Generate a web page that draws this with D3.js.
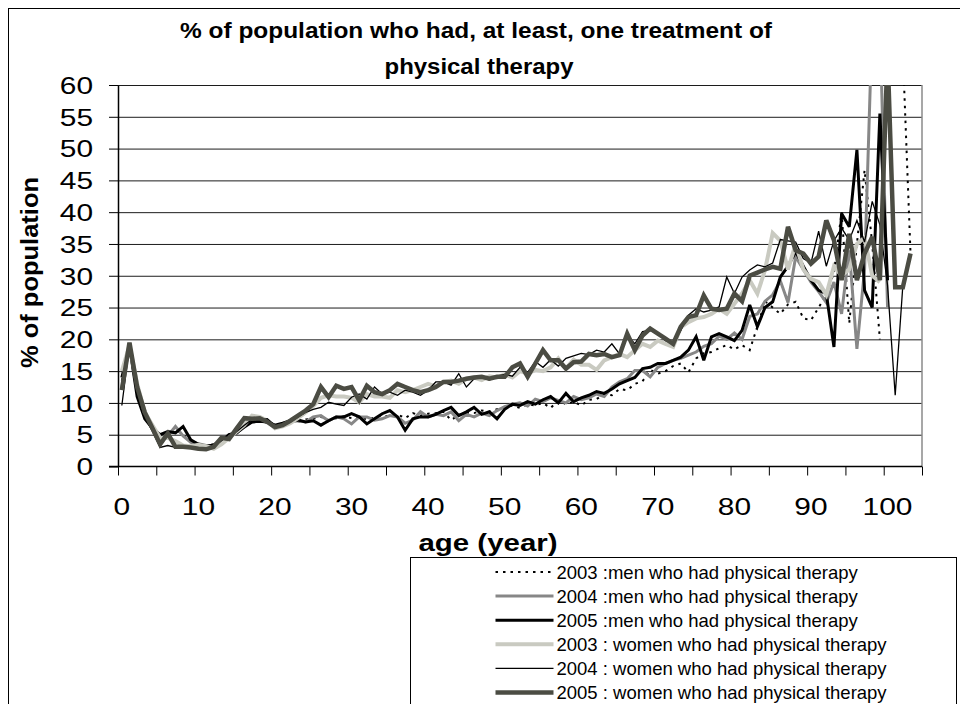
<!DOCTYPE html>
<html>
<head>
<meta charset="utf-8">
<script src="https://cdn.jsdelivr.net/npm/d3@7"></script>
<style>
  html, body { margin: 0; padding: 0; background: #fff; }
  svg { display: block; font-family: "Liberation Sans", Arial, sans-serif; }
</style>
</head>
<body>
<div id="chart"></div>
<script>
// ages 0..103 (the category axis runs one slot further, to 104)
const ages = d3.range(0, 104);

// % of population. null = no point for that age.
const men2003 = [
  13.5, 19, 11.5, 8, 6, 4.8, 4.2, 5.8, 5, 4, 3.5, 3.2, 3.5, 4.2, 5, 5.5, 6.5, 7.2, 7.1, 7.2, 6.3,
  6.8, 7.2, 7.0, 7.4, 7.5, 7.8, 7.3, 7.6, 7.9, 7.6, 7.8, 7.4, 7.7, 8.0, 7.9, 8.2, 7.6, 8.4, 8.0, 8.3,
  8.4, 8.6, 7.3, 8.1, 8.5, 8.4, 8.8, 8.6, 9.0, 9.3, 9.6, 9.2, 9.8, 9.6, 10.0, 9.2, 10.4, 9.8, 10.2, 9.6,
  10.5, 10.6, 11.4, 11.2, 12.2, 12.0, 13.0, 13.4, 15.2, 14.6, 15.0, 15.8, 16.2, 14.8, 17.0, 17.8, 18.0, 18.6, 19.1, 18.4,
  19.1, 18.3, 22.0, 26.0, 25.0, 24.0, 25.5, 25.9, 23.3, 23.0, 25.0, 27.0, 30.5, 40.0, 22.5, 35.0, 46.6, 35.0, 20.0, null,
  null, 65, 33.5
];
const men2004 = [
  12.5, 19.3, 12, 8, 6, 4.5, 4.8, 6.3, 4.8, 3.8, 3.6, 3.3, 3.3, 4, 5, 5.2, 6.4, 7, 7.2, 7, 6.3,
  6.5, 7.0, 7.2, 7.0, 7.8, 8.0, 7.2, 7.8, 7.5, 6.7, 7.8, 7.8, 7.3, 7.5, 8.0, 7.8, 6.8, 7.3, 8.6, 7.8,
  8.2, 8.0, 8.6, 7.2, 8.2, 7.8, 8.4, 8.0, 8.8, 9.4, 9.8, 10.0, 9.5, 10.6, 10.2, 10.8, 10.4, 10.0, 11.0, 10.5,
  10.8, 11.4, 11.0, 12.5, 13.3, 13.8, 15.1, 15.1, 14.1, 15.6, 16.2, 16.7, 17.0, 17.5, 18.0, 18.9, 19.3, 20.5, 20.0, 21.0,
  20.0, 23.6, 24.0, 26.0, 27.0, 29.2, 25.8, 33.0, 31.0, 29.0, 27.5, 25.8, 29.0, 24.0, 34.0, 18.5, 31.0, 70, 70, 25.0,
  null, null, null
];
const men2005 = [
  14, 19, 11, 7.5, 6, 5, 5.5, 5.3, 6.3, 4.2, 3.5, 3.2, 3.4, 4, 5, 5.3, 6.2, 7, 7.1, 7, 6.5,
  6.8, 7.2, 7.3, 7.0, 7.2, 6.5, 7.2, 7.8, 7.8, 8.3, 7.8, 6.7, 7.5, 8.3, 8.8, 7.8, 5.7, 7.5, 7.8, 7.8,
  8.2, 8.8, 9.3, 8.0, 8.6, 9.3, 8.2, 8.6, 7.5, 9.0, 9.8, 9.6, 10.2, 9.8, 10.5, 11.0, 10.0, 11.5, 10.2, 10.8,
  11.2, 11.8, 11.5, 12.2, 13.0, 13.5, 14.0, 15.4, 15.6, 16.2, 16.2, 16.7, 17.2, 18.3, 20.4, 16.7, 20.4, 20.9, 20.4, 19.8,
  21.4, 25.4, 22.0, 25.0, 25.9, 29.8, 31.5, 33.8, 31.5, 29.3, 27.7, 27.2, 18.8, 39.8, 37.7, 49.8, 27.7, 25.0, 55.5, 29.3,
  null, null, null
];
const women2003 = [
  15, 19, 13, 8.5, 6.5, 4.5, 4.5, 4, 3.3, 3.2, 3.4, 3.2, 2.8, 3.5, 4.5, 5.5, 6.5, 8, 7.8, 7.2, 6,
  6.3, 6.8, 7.6, 8.5, 9.5, 10.8, 11.2, 11.0, 11.0, 10.8, 10.1, 11.4, 11.0, 11.0, 10.8, 12.0, 11.7, 12.0, 12.5, 13.0,
  12.6, 13.3, 13.5, 13.0, 13.8, 14.0, 13.6, 14.2, 14.0, 14.5, 14.0, 15.0, 14.6, 15.2, 15.0, 15.6, 17.0, 15.4, 16.8, 16.0,
  16.0, 15.2, 16.7, 17.2, 17.7, 17.2, 18.3, 19.3, 18.8, 19.8, 19.3, 18.8, 21.9, 22.7, 23.3, 23.5, 24.0, 24.8, 24.0, 25.6,
  27.2, 29.3, 27.2, 30.9, 36.7, 35.5, 31.0, 35.0, 31.0, 29.5, 29.0, 27.0, 31.5, 30.0, 31.0, 35.0, 36.0, 30.0, 29.0, null,
  null, null, null
];
const women2004 = [
  9.6, 19, 12, 7.8, 5.5, 3, 3.3, 3.0, 3.0, 3.1, 2.9, 2.8, 3.3, 4.2, 4.7, 5.5, 6.5, 7.4, 7.3, 7.5, 6.5,
  6.4, 7.0, 7.8, 8.5, 9.0, 9.3, 10.1, 9.8, 9.6, 10.9, 11.4, 10.6, 12.5, 11.4, 11.7, 11.2, 12.0, 11.7, 11.2, 12.0,
  13.3, 13.3, 12.8, 14.6, 12.5, 13.8, 14.0, 13.6, 14.2, 14.5, 14.2, 15.6, 14.8, 16.5, 15.6, 16.8, 15.8, 17.0, 17.4, 17.8,
  17.6, 18.3, 18.0, 19.3, 17.7, 20.6, 19.3, 21.2, 21.4, 20.9, 19.8, 19.3, 21.4, 23.8, 24.8, 24.3, 24.6, 25.1, 29.8, 27.2,
  29.8, 30.9, 31.7, 31.4, 32.0, 35.7, 35.5, 35.3, 32.7, 32.0, 37.0, 31.5, 35.5, 37.5, 35.6, 38.7, 35.3, 41.7, 38.0, 28.5,
  11.2, 28.5, null
];
const women2005 = [
  12, 19.5, 12.5, 8.5, 6, 3.5, 5.2, 3.1, 3.1, 3.0, 2.8, 2.7, 3.1, 4.5, 4.3, 6, 7.6, 7.5, 7.6, 7, 6.2,
  6.5, 7.2, 8.0, 8.8, 9.8, 12.5, 10.9, 12.7, 12.2, 12.5, 10.4, 12.7, 11.7, 11.4, 12.0, 13.0, 12.5, 12.0, 11.7, 12.0,
  12.5, 13.3, 13.3, 13.5, 13.8, 14.0, 14.1, 13.8, 14.1, 14.1, 15.6, 16.2, 14.1, 16.2, 18.3, 16.7, 16.7, 15.4, 16.4, 16.5,
  17.7, 17.5, 17.7, 17.2, 17.5, 20.9, 18.3, 20.6, 21.7, 20.9, 20.1, 19.3, 22.0, 23.5, 23.8, 26.9, 24.8, 24.6, 24.8, 27.2,
  26.0, 30.0, 30.5, 31.0, 31.4, 31.1, 37.7, 34.0, 33.5, 31.9, 33.0, 38.7, 35.6, 29.3, 36.6, 29.3, 33.5, 36.1, 29.3, 65,
  28.2, 28.2, 33.5
];

const yTicks = d3.range(0, 61, 5);
const xLabelTicks = d3.range(0, 101, 10);
const xMarkTicks = d3.range(0, 106, 5);

const seriesNames = [
  "2003 :men who had physical therapy",
  "2004 :men who had physical therapy",
  "2005 :men who had physical therapy",
  "2003 : women who had physical therapy",
  "2004 : women who had physical therapy",
  "2005 : women who had physical therapy"
];
const seriesValues = [men2003, men2004, men2005, women2003, women2004, women2005];

// stroke styles, in the same order as the series
const seriesStyles = [
  { color: "#000000", width: 2, dash: "2.5,5" },
  { color: "#878787", width: 3, dash: null },
  { color: "#000000", width: 3, dash: null },
  { color: "#c9cac1", width: 4, dash: null },
  { color: "#000000", width: 1.3, dash: null },
  { color: "#4b4c43", width: 4.5, dash: null }
];

const config = {
  width: 960,
  height: 704,
  plot: { left: 118, right: 922, top: 85, bottom: 466.5 },
  tickStretch: 1.3
};

const svg = d3.select("#chart")
  .append("svg")
  .attr("width", config.width)
  .attr("height", config.height);

// outer chart border (right and bottom edges fall outside the picture)
svg.append("rect")
  .attr("x", 8.5).attr("y", 8.5)
  .attr("width", 1000).attr("height", 800)
  .attr("fill", "#fff").attr("stroke", "#000").attr("stroke-width", 1);

const p = config.plot;
// category slots 0..104, drawn between tick marks like an Excel category axis
const x = d3.scaleBand().domain(d3.range(0, 105)).range([p.left, p.right]).padding(0);
const xEdge = d3.scaleLinear().domain([0, 105]).range([p.left, p.right]);
const y = d3.scaleLinear().domain([0, 60]).range([p.bottom, p.top]);

// horizontal gridlines
svg.append("g")
  .attr("class", "grid")
  .attr("transform", "translate(" + p.left + ",0)")
  .call(d3.axisLeft(y).tickValues(yTicks.slice(1)).tickSize(-(p.right - p.left)).tickFormat(""))
  .call(g => g.select(".domain").remove())
  .selectAll("line").attr("stroke", "#1c1c1c");

// right edge of plot area
svg.append("line")
  .attr("x1", p.right).attr("x2", p.right)
  .attr("y1", y(60)).attr("y2", y(0))
  .attr("stroke", "#8a8a8a").attr("stroke-width", 1.5);

// series lines, clipped to the plot area
svg.append("clipPath").attr("id", "plot-clip")
  .append("rect")
  .attr("x", p.left).attr("y", p.top)
  .attr("width", p.right - p.left).attr("height", p.bottom - p.top);

const line = d3.line()
  .defined(d => d != null)
  .x((d, i) => x(ages[i]) + x.bandwidth() / 2)
  .y(d => y(d));

svg.append("g")
  .attr("clip-path", "url(#plot-clip)")
  .selectAll("path")
  .data(seriesValues)
  .enter()
  .append("path")
  .attr("d", d => line(d))
  .attr("fill", "none")
  .attr("stroke", (d, i) => seriesStyles[i].color)
  .attr("stroke-width", (d, i) => seriesStyles[i].width)
  .attr("stroke-dasharray", (d, i) => seriesStyles[i].dash)
  .attr("stroke-linejoin", "miter")
  .attr("stroke-miterlimit", 3);

// y axis
const yAxis = svg.append("g")
  .attr("transform", "translate(" + p.left + ",0)")
  .call(d3.axisLeft(y).tickValues(yTicks).tickSize(9).tickSizeOuter(0));
yAxis.select(".domain").attr("stroke", "#000").attr("stroke-width", 1.5);
yAxis.selectAll(".tick line").attr("stroke", "#000");
yAxis.selectAll("text")
  .attr("x", -25 / config.tickStretch)
  .attr("dy", "0.36em")
  .attr("transform", "scale(" + config.tickStretch + ",1)")
  .style("font-size", "23px")
  .attr("fill", "#000");

// x axis: the line, tick marks every 5 slots, labels every 10
svg.append("line")
  .attr("x1", p.left - 9).attr("x2", p.right)
  .attr("y1", y(0)).attr("y2", y(0))
  .attr("stroke", "#000").attr("stroke-width", 1.5);

svg.append("g")
  .attr("transform", "translate(0," + y(0) + ")")
  .call(d3.axisBottom(xEdge).tickValues(xMarkTicks).tickSize(9).tickFormat(""))
  .call(g => g.select(".domain").remove())
  .selectAll("line").attr("stroke", "#000");

svg.append("g")
  .attr("transform", "translate(0," + y(0) + ")")
  .call(d3.axisBottom(x).tickValues(xLabelTicks).tickSize(0))
  .call(g => g.select(".domain").remove())
  .selectAll("text")
  .attr("y", 49)
  .attr("dy", 0)
  .attr("transform", "scale(" + config.tickStretch + ",1)")
  .style("font-size", "23px")
  .attr("fill", "#000");

// titles
const title = svg.append("g").attr("font-weight", "bold").attr("text-anchor", "middle");
title.append("text")
  .attr("x", 476).attr("y", 38)
  .attr("textLength", 592).attr("lengthAdjust", "spacingAndGlyphs")
  .style("font-size", "22px")
  .text("% of population who had, at least, one treatment of");
title.append("text")
  .attr("x", 479).attr("y", 74)
  .attr("textLength", 189).attr("lengthAdjust", "spacingAndGlyphs")
  .style("font-size", "22px")
  .text("physical therapy");

svg.append("text")
  .attr("transform", "translate(38,272.5) rotate(-90)")
  .attr("text-anchor", "middle")
  .attr("font-weight", "bold")
  .attr("textLength", 191).attr("lengthAdjust", "spacingAndGlyphs")
  .style("font-size", "23px")
  .text("% of population");

svg.append("text")
  .attr("x", 488).attr("y", 551)
  .attr("text-anchor", "middle")
  .attr("font-weight", "bold")
  .attr("textLength", 139).attr("lengthAdjust", "spacingAndGlyphs")
  .style("font-size", "23px")
  .text("age (year)");

// legend box
const legend = svg.append("g").attr("transform", "translate(410.5,557.5)");
legend.append("rect")
  .attr("width", 546).attr("height", 200)
  .attr("fill", "#fff").attr("stroke", "#000").attr("stroke-width", 1);

const rowY = d3.scaleLinear().domain([0, 5]).range([14.5, 135]);
const entry = legend.selectAll("g.entry")
  .data(seriesNames)
  .enter()
  .append("g")
  .attr("class", "entry")
  .attr("transform", (d, i) => "translate(0," + rowY(i) + ")");

entry.append("line")
  .attr("x1", 85).attr("x2", 143)
  .attr("stroke", (d, i) => seriesStyles[i].color)
  .attr("stroke-width", (d, i) => seriesStyles[i].width)
  .attr("stroke-dasharray", (d, i) => seriesStyles[i].dash);

entry.append("text")
  .attr("x", 146)
  .attr("dy", "0.36em")
  .style("font-size", "18.5px")
  .text(d => d);
</script>
</body>
</html>
